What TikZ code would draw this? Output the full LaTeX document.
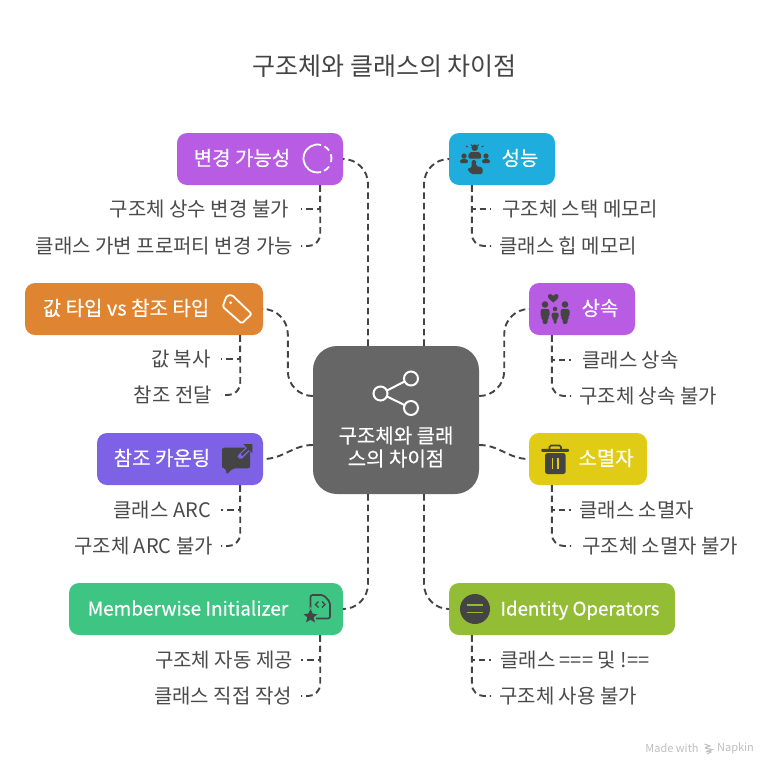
\documentclass[tikz,border=0pt]{standalone}
\usepackage{fontspec}
\setmainfont{Noto Sans CJK KR}
\newfontfamily\boxfont[FakeBold=0.35]{Noto Sans CJK KR}
\definecolor{inkdark}{HTML}{444444}
\definecolor{leafink}{HTML}{4A4A4A}
\definecolor{cmut}{HTML}{B95CE4}
\definecolor{cperf}{HTML}{1EADDC}
\definecolor{cval}{HTML}{DF8430}
\definecolor{cinh}{HTML}{B95CE4}
\definecolor{crc}{HTML}{7E62E6}
\definecolor{cdeinit}{HTML}{E0CC14}
\definecolor{cmw}{HTML}{3EC584}
\definecolor{cident}{HTML}{94BD36}
\definecolor{ccore}{HTML}{666666}
\definecolor{cmark}{HTML}{BDBDBD}
\tikzset{
  branch/.style={rounded corners=10pt,inner sep=0pt,minimum height=52pt,text=white,
    font=\boxfont\fontsize{20}{24}\selectfont,text height=15.5pt,text depth=2.5pt},
  leaf/.style={inner ysep=0pt,text=leafink,font=\fontsize{20}{24}\selectfont,text height=16.5pt,text depth=2pt},
  link/.style={draw=inkdark,line width=1.9pt,dash pattern=on 6.5pt off 4pt},
  glyph/.style={fill=inkdark},
  outline/.style={draw=white,line width=1.8pt},
}
\begin{document}
\begin{tikzpicture}[x=1pt,y=-1pt]
  \useasboundingbox (0,0) rectangle (768,766);
  \node[text=inkdark,font=\fontsize{25}{29}\selectfont] (title) at (384.5,66) {구조체와 클래스의 차이점};
  \node[fill=ccore,rounded corners=24pt,minimum width=166pt,minimum height=148pt] (core) at (396,420) {};
  \node[text=white,align=center,font=\boxfont\fontsize{20}{23}\selectfont] (coretext) at (396,447) {구조체와 클래\\스의 차이점};
  \foreach \n/\x/\y/\w/\c/\s/\t in {
    mut/260/159/166/cmut/-36/변경 가능성,
    perf/502/159/106/cperf/36/성능,
    val/144/309/238/cval/-36/값 타입 vs 참조 타입,
    inh/582/309/106/cinh/36/상속,
    rc/180/459/166/crc/-36/참조 카운팅,
    deinit/588/459/118/cdeinit/36/소멸자,
    mw/206/609/274/cmw/-36/\fontsize{19}{24}\selectfont Memberwise Initializer,
    ident/562/609/226/cident/36/\fontsize{18.7}{24}\selectfont Identity Operators} {
    \node[branch,fill=\c,minimum width=\w pt] (\n) at (\x,\y) {\hspace*{\s pt}\t};}
  % core to branches
  \draw[link,rounded corners=25pt] ([xshift=-28pt]core.north) |- (mut.east);
  \draw[link,rounded corners=25pt] ([xshift=28pt]core.north) |- (perf.west);
  \draw[link,rounded corners=25pt] ([yshift=24pt]core.west) -- ++(-25,0) |- (val.east);
  \draw[link,rounded corners=25pt] ([yshift=24pt]core.east) -- ++(25,0) |- (inh.west);
  \draw[link] ([yshift=-25pt]core.west) to[out=180,in=0] (rc.east);
  \draw[link] ([yshift=-25pt]core.east) to[out=0,in=180] (deinit.west);
  \draw[link,rounded corners=25pt] ([xshift=-28pt]core.south) |- (mw.east);
  \draw[link,rounded corners=25pt] ([xshift=28pt]core.south) |- (ident.west);
  % leaves on the left
  \foreach \b/\n/\x/\y/\g/\r/\t in {
    mut/mutA/301/209/12/0/구조체 상수 변경 불가,
    mut/mutB/301/246/8/12/클래스 가변 프로퍼티 변경 가능,
    val/valA/221/359/10/0/값 복사,
    val/valB/221/395/9/12/참조 전달,
    rc/rcA/221/510/10/0/클래스 ARC,
    rc/rcB/221/546/8/12/구조체 ARC 불가,
    mw/mwA/301/660/8/0/구조체 자동 제공,
    mw/mwB/301/696/9/12/클래스 직접 작성} {
    \node[leaf,anchor=east,inner xsep=\g pt] (\n) at (\x,\y) {\t};
    \draw[link,rounded corners=\r pt] ([xshift=-23pt]\b.south east) |- (\n.east);}
  % leaves on the right
  \foreach \b/\n/\x/\y/\g/\r/\t in {
    perf/perfA/491/209/11/0/구조체 스택 메모리,
    perf/perfB/491/246/8/12/클래스 힙 메모리,
    inh/inhA/571/360/11/0/클래스 상속,
    inh/inhB/571/396/8/12/구조체 상속 불가,
    deinit/deinitA/571/510/8/0/클래스 소멸자,
    deinit/deinitB/571/546/11/12/구조체 소멸자 불가,
    ident/identA/491/660/9/0/클래스 === 및 !==,
    ident/identB/491/696/8/12/구조체 사용 불가} {
    \node[leaf,anchor=west,inner xsep=\g pt] (\n) at (\x,\y) {\t};
    \draw[link,rounded corners=\r pt] ([xshift=23pt]\b.south west) |- (\n.west);}
  % share icon
  \draw[outline,line width=2pt] (380.5,393.5) circle[radius=7pt] (411,378.5) circle[radius=7pt] (411,408) circle[radius=7pt];
  \draw[outline,line width=2pt] (387,390.5) -- (404.5,381.5) (387,396.5) -- (404.5,405);
  % ring
  \foreach \a/\b in {75/285,298/325,345/378,395/420} {
    \draw[outline] (317.5,158.5) ++(\a:14pt) arc[start angle=\a,end angle=\b,radius=14pt];}
  % people and hand
  \fill[glyph] (474.7,147.7) circle[radius=3.3pt] (464,156) circle[radius=2.6pt] (486,156) circle[radius=2.6pt];
  \fill[glyph,rounded corners=2pt] (468,158.5) -- (469,152) -- (480.5,152) -- (481.5,158.5) -- cycle;
  \fill[glyph,rounded corners=1.5pt] (459.5,163) -- (461,158.8) -- (467,158.8) -- (468.5,163) -- cycle;
  \fill[glyph,rounded corners=1.5pt] (481.5,163) -- (483,158.8) -- (489,158.8) -- (490.5,163) -- cycle;
  \fill[glyph,rounded corners=1.5pt] (471.5,168) -- (471.5,160) -- (476,160) -- (476,166) -- (482.5,167.5) -- (482.5,174) -- (471,174) -- (467,168.5) -- cycle;
  \draw[inkdark,line width=1pt] (466,146) -- (468,147) (483.5,146) -- (481.5,147) (471,144.5) -- (472,146) (478.5,144.5) -- (477.5,146);
  % family
  \fill[glyph] (553.3,302.5) .. controls (548,298.5) and (547,296.5) .. (548,295) .. controls (549.5,293) and (552,294) .. (553.3,295.8) .. controls (554.6,294) and (557,293) .. (558.5,295) .. controls (559.5,296.5) and (558.5,298.5) .. (553.3,302.5) -- cycle;
  \fill[glyph] (545,304.5) circle[radius=3.3pt] (565,304.5) circle[radius=3.3pt] (555,309) circle[radius=2.3pt];
  \foreach \p in {545,565} {
    \fill[glyph,rounded corners=2pt] (\p-4.5,317) -- (\p-4.5,309) -- (\p+4.5,309) -- (\p+4.5,317) -- (\p+2.5,318) -- (\p+2.5,324) -- (\p-2.5,324) -- (\p-2.5,318) -- cycle;}
  \fill[glyph,rounded corners=1.5pt] (551.5,318) -- (551.5,312.5) -- (558.5,312.5) -- (558.5,318) -- (556.5,319) -- (556.5,324) -- (553.5,324) -- (553.5,319) -- cycle;
  % tag
  \draw[outline,line join=round,rounded corners=1.5pt] (222.7,306.7) -- (226.7,295.7) -- (232,295) -- (251.7,314) -- (241.7,323.5) -- cycle;
  \fill[white] (230.7,302.7) circle[radius=1.5pt];
  % bubble and arrow
  \fill[glyph,rounded corners=2pt] (222,447.7) -- (250,447.7) -- (250,468.3) -- (233,468.3) -- (226.5,474.5) -- (226,468.3) -- (222,468.3) -- cycle;
  \draw[crc,line width=5pt] (240,457) -- (248,449);
  \fill[glyph] (243.3,444) -- (252.3,444) -- (252.3,453.3) -- cycle;
  \draw[inkdark,line width=2.5pt] (241.5,455) -- (248,449);
  \draw[crc,line width=1.3pt] (238,456) .. controls (238,458.5) and (241,458.5) .. (243,456.5);
  % document and star
  \draw[inkdark,line width=1.7pt,rounded corners=2pt] (310.5,610) -- (310.5,595) -- (323.5,595) -- (330,602) -- (330,618.5) -- (316,618.5);
  \draw[inkdark,line width=1.2pt] (318.5,601.5) -- (315.5,604.5) -- (318.5,607.5) (322,601.5) -- (325,604.5) -- (322,607.5);
  \fill[inkdark,draw=cmw,line width=0.8pt,line join=round] (310.5,607.5) -- (313,613.2) -- (318.8,613.6) -- (314.3,617.6) -- (315.8,623.5) -- (310.5,620.4) -- (305.2,623.5) -- (306.7,617.6) -- (302.2,613.6) -- (308,613.2) -- cycle;
  % trash
  \fill[glyph,rounded corners=1pt] (541.3,448.8) rectangle (569,451.8);
  \draw[inkdark,line width=1.6pt,rounded corners=1.5pt] (549.5,449) -- (549.5,445.5) -- (561,445.5) -- (561,449);
  \fill[glyph,rounded corners=2.5pt] (545,453) -- (565.7,453) -- (565.7,474) -- (545,474) -- cycle;
  \draw[cdeinit,line width=1.2pt] (552.5,457.5) -- (552.5,469) (558,457.5) -- (558,469);
  % equals
  \fill[glyph] (475,609) circle[radius=15pt];
  \draw[cident,line width=1.7pt] (466.7,604.7) -- (483.3,604.7) (466.7,612.5) -- (483.3,612.5);
  % watermark
  \node[text=cmark,font=\fontsize{11}{13}\selectfont,inner sep=0pt] (madewith) at (672,748.5) {Made with};
  \node[text=cmark,font=\fontsize{11}{13}\selectfont,inner sep=0pt] (napkin) at (735.5,748.5) {Napkin};
  \draw[cmark,line width=1pt] (704.5,744) -- (710,746) -- (705,747.5) (705,748) -- (712.5,749.5) -- (706,752) (707,750.5) -- (711,752) -- (707,754);
\end{tikzpicture}
\end{document}
